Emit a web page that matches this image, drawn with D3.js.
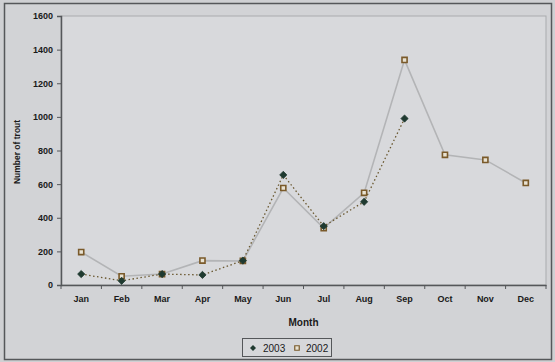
<!DOCTYPE html>
<html>
<head>
<meta charset="utf-8">
<script src="https://cdn.jsdelivr.net/npm/d3@7"></script>
<style>
  html, body { margin: 0; padding: 0; background: #cfd0d3; }
  svg { display: block; font-family: "Liberation Sans", Arial, sans-serif; }
</style>
</head>
<body>
<script>
// Monthly trout counts
const months = ["Jan","Feb","Mar","Apr","May","Jun","Jul","Aug","Sep","Oct","Nov","Dec"];
const trout2003 = [65, 25, 65, 60, 145, 655, 350, 495, 990];
const trout2002 = [196, 52, 65, 145, 143, 577, 338, 548, 1339, 774, 744, 607];
const yTicks = [0, 200, 400, 600, 800, 1000, 1200, 1400, 1600];

const W = 555, H = 362;
const m = { left: 61, right: 9, top: 16, bottom: 77 };

const svg = d3.select("body").append("svg").attr("width", W).attr("height", H);

// chart background and outer frame
svg.append("rect").attr("x", 0).attr("y", 0).attr("width", W).attr("height", H).attr("fill", "#cfd0d3");
svg.append("rect").attr("x", 4.5).attr("y", 3.5).attr("width", W - 8).attr("height", H - 6)
  .attr("fill", "#d2d3d6").attr("stroke", "#55575a").attr("stroke-width", 1.5);

const x = d3.scaleBand().domain(months).range([m.left, W - m.right]);
const y = d3.scaleLinear().domain([0, 1600]).range([H - m.bottom, m.top]);

// plot area
svg.append("rect").attr("x", m.left).attr("y", m.top)
  .attr("width", W - m.right - m.left).attr("height", H - m.bottom - m.top)
  .attr("fill", "#d8d9dc").attr("stroke", "#a9abae").attr("stroke-width", 1);

// y axis
const yAxis = svg.append("g").attr("transform", `translate(${m.left},0)`)
  .call(d3.axisLeft(y).tickValues(yTicks).tickSize(4).tickPadding(4).tickFormat(d3.format("d")));
yAxis.select(".domain").attr("stroke", "#55575a").attr("stroke-width", 1.5);
yAxis.selectAll(".tick line").attr("stroke", "#55575a");
yAxis.selectAll("text").attr("fill", "#1a1a1a").attr("font-size", 9).attr("font-weight", "bold");

// x axis with ticks between categories
const xAxis = svg.append("g").attr("transform", `translate(0,${H - m.bottom})`)
  .call(d3.axisBottom(x).tickSize(0).tickPadding(11));
xAxis.select(".domain").attr("stroke", "#55575a").attr("stroke-width", 1.5);
xAxis.selectAll("text").attr("fill", "#1a1a1a").attr("font-size", 9).attr("font-weight", "bold");
xAxis.selectAll(".sep").data(d3.range(months.length + 1)).enter().append("line")
  .attr("x1", i => m.left + i * x.step()).attr("x2", i => m.left + i * x.step())
  .attr("y1", 0).attr("y2", 4).attr("stroke", "#55575a");

// axis titles
svg.append("text").attr("x", x("Jun") + x.bandwidth()).attr("y", 326)
  .attr("text-anchor", "middle").attr("font-size", 10).attr("font-weight", "bold")
  .attr("fill", "#1a1a1a").text("Month");
svg.append("text").attr("transform", `translate(20,${152}) rotate(-90)`)
  .attr("text-anchor", "middle").attr("font-size", 8.5).attr("font-weight", "bold")
  .attr("fill", "#1a1a1a").text("Number of trout");

const cx = (d, i) => x(months[i]) + x.bandwidth() / 2;
const line = d3.line().x(cx).y(d => y(d));

// 2002 series: solid light line with square markers
svg.append("path").datum(trout2002).attr("d", line)
  .attr("fill", "none").attr("stroke", "#b3b4b6").attr("stroke-width", 1.6);
// 2003 series: dotted dark line with diamond markers
svg.append("path").datum(trout2003).attr("d", line)
  .attr("fill", "none").attr("stroke", "#6a5830").attr("stroke-width", 1.3)
  .attr("stroke-dasharray", "1.5,2.5");

// compact diamond marker (as wide as it is tall)
const diamond = r => `M0,${-r}L${r},0L0,${r}L${-r},0Z`;

svg.selectAll(".m2002").data(trout2002).enter().append("path")
  .attr("d", d3.symbol().type(d3.symbolSquare).size(26))
  .attr("transform", (d, i) => `translate(${cx(d, i)},${y(d)})`)
  .attr("fill", "#e8e2d2").attr("stroke", "#7a5a2a").attr("stroke-width", 1.6);
svg.selectAll(".m2003").data(trout2003).enter().append("path")
  .attr("d", diamond(3.6))
  .attr("transform", (d, i) => `translate(${cx(d, i)},${y(d)})`)
  .attr("fill", "#1f3a30").attr("stroke", "#1f3a30").attr("stroke-width", 0.8);

// legend
const lg = svg.append("g").attr("transform", "translate(242,338)");
lg.append("rect").attr("x", 0.5).attr("y", 0.5).attr("width", 89).attr("height", 18)
  .attr("fill", "#d6d7da").attr("stroke", "#55575a").attr("stroke-width", 1);
lg.append("path").attr("d", diamond(3))
  .attr("transform", "translate(11,10)").attr("fill", "#1f3a30");
lg.append("text").attr("x", 21).attr("y", 13.5).attr("font-size", 10).attr("fill", "#1a1a1a").text("2003");
lg.append("path").attr("d", d3.symbol().type(d3.symbolSquare).size(20))
  .attr("transform", "translate(55,10)").attr("fill", "#e8e2d2").attr("stroke", "#7a5a2a").attr("stroke-width", 1.2);
lg.append("text").attr("x", 64).attr("y", 13.5).attr("font-size", 10).attr("fill", "#1a1a1a").text("2002");
</script>
</body>
</html>
